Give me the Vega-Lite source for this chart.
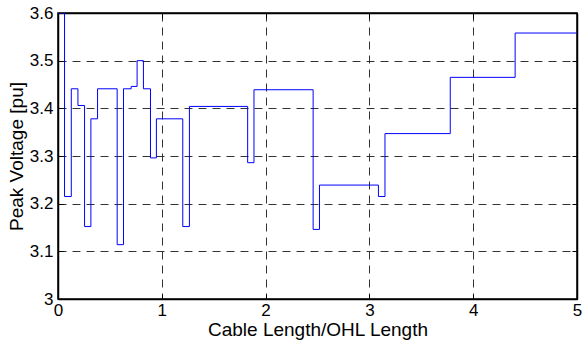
{
  "$schema": "https://vega.github.io/schema/vega-lite/v6.json",
  "width": 519,
  "height": 286,
  "autosize": "none",
  "padding": {"left": 58, "top": 13, "right": 5, "bottom": 47},
  "background": "white",
  "data": {"values": [
    {"x": 0, "y": 3.6},
    {"x": 0.063, "y": 3.215},
    {"x": 0.128, "y": 3.441},
    {"x": 0.192, "y": 3.406},
    {"x": 0.256, "y": 3.152},
    {"x": 0.317, "y": 3.378},
    {"x": 0.381, "y": 3.441},
    {"x": 0.570, "y": 3.114},
    {"x": 0.631, "y": 3.441},
    {"x": 0.705, "y": 3.446},
    {"x": 0.762, "y": 3.5},
    {"x": 0.823, "y": 3.441},
    {"x": 0.891, "y": 3.296},
    {"x": 0.948, "y": 3.378},
    {"x": 1.202, "y": 3.152},
    {"x": 1.266, "y": 3.404},
    {"x": 1.827, "y": 3.286},
    {"x": 1.888, "y": 3.439},
    {"x": 2.458, "y": 3.146},
    {"x": 2.519, "y": 3.239},
    {"x": 3.087, "y": 3.215},
    {"x": 3.150, "y": 3.347},
    {"x": 3.779, "y": 3.465},
    {"x": 4.404, "y": 3.558},
    {"x": 5.0, "y": 3.558}
  ]},
  "layer": [
    {
      "mark": {"type": "line", "interpolate": "step-after", "color": "#0000ff", "strokeWidth": 1, "clip": true},
      "encoding": {
        "x": {"field": "x", "type": "quantitative", "scale": {"domain": [0, 5], "nice": false, "zero": false},
          "axis": {"orient": "bottom", "values": [0, 1, 2, 3, 4, 5], "title": "Cable Length/OHL Length", "grid": true, "labelPadding": 8}},
        "y": {"field": "y", "type": "quantitative", "scale": {"domain": [3, 3.6], "nice": false, "zero": false},
          "axis": {"orient": "left", "values": [3, 3.1, 3.2, 3.3, 3.4, 3.5, 3.6], "format": "~g", "title": "Peak Voltage [pu]", "grid": true, "labelPadding": 10, "titlePadding": 3}}
      }
    },
    {
      "mark": {"type": "line", "interpolate": "step-after", "opacity": 0},
      "encoding": {
        "x": {"field": "x", "type": "quantitative",
          "axis": {"orient": "top", "values": [0, 1, 2, 3, 4, 5], "labels": false, "title": null, "grid": false}},
        "y": {"field": "y", "type": "quantitative",
          "axis": {"orient": "right", "values": [3, 3.1, 3.2, 3.3, 3.4, 3.5, 3.6], "labels": false, "title": null, "grid": false}}
      }
    }
  ],
  "resolve": {"axis": {"x": "independent", "y": "independent"}},
  "config": {
    "view": {"stroke": "black", "strokeWidth": 1.5},
    "axis": {
      "domainColor": "black",
      "domainWidth": 1.5,
      "tickColor": "black",
      "tickWidth": 1,
      "tickSize": -5,
      "labelFont": "Liberation Sans",
      "labelFontSize": 17,
      "labelColor": "black",
      "titleFont": "Liberation Sans",
      "titleFontSize": 19,
      "titleFontWeight": "normal",
      "titleColor": "black",
      "titlePadding": 2,
      "gridColor": "#333333",
      "gridWidth": 1,
      "gridDash": [8, 6],
      "gridOpacity": 1,
      "labelFlush": false,
      "labelOverlap": false
    }
  }
}
